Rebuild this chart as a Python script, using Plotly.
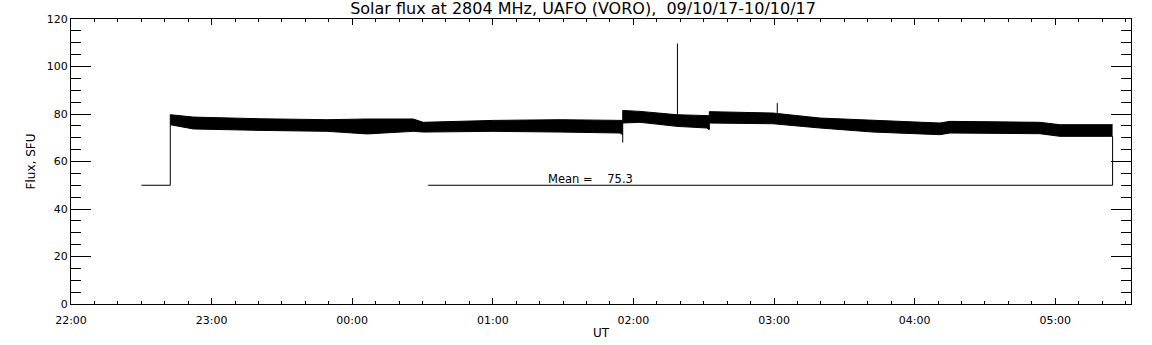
import plotly.graph_objects as go

D1 = "2017-10-09 "
D2 = "2017-10-10 "

# Envelope of the noisy flux record
band_time = [D1 + "22:42:22", D1 + "22:52:12", D1 + "23:20:46", D1 + "23:49:19", D2 + "00:06:25",
             D2 + "00:26:02", D2 + "00:30:18", D2 + "01:00:11", D2 + "01:28:44", D2 + "01:54:18",
             D2 + "01:55:26", D2 + "01:55:26", D2 + "02:02:49", D2 + "02:18:30", D2 + "02:31:17",
             D2 + "02:32:24", D2 + "02:32:24", D2 + "02:59:34", D2 + "03:19:37", D2 + "03:42:14",
             D2 + "04:10:48", D2 + "04:15:04", D2 + "04:53:27", D2 + "05:02:00", D2 + "05:22:05",
             D2 + "05:24:29"]
band_upper = [79.7, 78.7, 78.0, 77.6, 77.9, 77.9, 76.5, 77.3, 77.6, 77.6,
              77.3, 81.5, 81.1, 79.7, 79.3, 79.3, 81.0, 80.4, 78.3, 77.3,
              76.2, 76.9, 76.5, 75.5, 75.5, 75.5]
band_lower = [75.5, 73.7, 73.1, 72.7, 71.6, 72.7, 72.4, 72.7, 72.4, 72.0,
              71.3, 76.2, 76.5, 74.8, 74.1, 73.4, 76.2, 75.9, 74.1, 72.4,
              71.3, 72.0, 71.7, 70.6, 70.6, 70.6]

# Lead-in step and isolated spikes
lead_time = [D1 + "22:30:05", D1 + "22:42:22", D1 + "22:42:22"]
lead_flux = [50, 50, 79.7]
spike_time = [D2 + "02:18:47", D2 + "02:18:47", None, D2 + "03:01:23", D2 + "03:01:23", None,
              D2 + "01:55:26", D2 + "01:55:26"]
spike_flux = [79.5, 109.7, None, 80.4, 84.6, None, 71.3, 68.0]

# Mean marker line
mean_time = [D2 + "00:32:25", D2 + "05:24:29", D2 + "05:24:29"]
mean_flux = [50, 50, 70.6]
mean_value = 75.3

fig = go.Figure()
fig.add_trace(go.Scatter(x=band_time, y=band_lower, mode="lines",
                         line=dict(color="black", width=1), showlegend=False))
fig.add_trace(go.Scatter(x=band_time, y=band_upper, mode="lines", fill="tonexty",
                         fillcolor="black", line=dict(color="black", width=1), showlegend=False))
fig.add_trace(go.Scatter(x=lead_time, y=lead_flux, mode="lines",
                         line=dict(color="black", width=1), showlegend=False))
fig.add_trace(go.Scatter(x=spike_time, y=spike_flux, mode="lines", connectgaps=False,
                         line=dict(color="black", width=1), showlegend=False))
fig.add_trace(go.Scatter(x=mean_time, y=mean_flux, mode="lines",
                         line=dict(color="black", width=1), showlegend=False))

fig.add_annotation(x=D2 + "01:22:40", y=50, xref="x", yref="y", xanchor="left", yanchor="bottom",
                   text="Mean =\u00a0\u00a0\u00a0\u00a0" + f"{mean_value:.1f}", showarrow=False,
                   font=dict(family="DejaVu Sans", size=11.5, color="black"), yshift=-3)

font = dict(family="DejaVu Sans", size=11, color="black")
fig.update_layout(
    width=1152, height=345,
    margin=dict(l=71, r=21, t=19, b=41),
    paper_bgcolor="white", plot_bgcolor="white",
    font=font,
    title=dict(text="Solar flux at 2804 MHz, UAFO (VORO),\u00a0\u00a009/10/17-10/10/17",
               x=583 / 1152, xanchor="center", y=1 - 8 / 345, yanchor="middle",
               font=dict(family="DejaVu Sans", size=16, color="black")),
    xaxis=dict(type="date", range=[D1 + "22:00:00", D2 + "05:32:20"],
               tickformat="%H:%M", dtick=3600000, tick0=D1 + "22:00:00",
               ticks="inside", ticklen=6, tickcolor="black", tickwidth=1,
               minor=dict(dtick=600000, ticks="inside", ticklen=3, tickcolor="black"),
               showline=True, linecolor="black", linewidth=1, mirror="allticks",
               showgrid=False, zeroline=False, ticklabelstandoff=6, automargin=False,
               title=dict(text="UT", standoff=2, font=dict(family="DejaVu Sans", size=12))),
    yaxis=dict(range=[0, 120], dtick=20, tick0=0,
               ticks="inside", ticklen=20, tickcolor="black", tickwidth=1,
               minor=dict(dtick=5, ticks="inside", ticklen=10, tickcolor="black"),
               showline=True, linecolor="black", linewidth=1, mirror="allticks",
               showgrid=False, zeroline=False, automargin=False,
               title=dict(text="Flux, SFU", standoff=8, font=dict(family="DejaVu Sans", size=12))),
)

fig.write_html("out.html", config={"displayModeBar": False},
               post_script="document.body.style.margin='0px';")
